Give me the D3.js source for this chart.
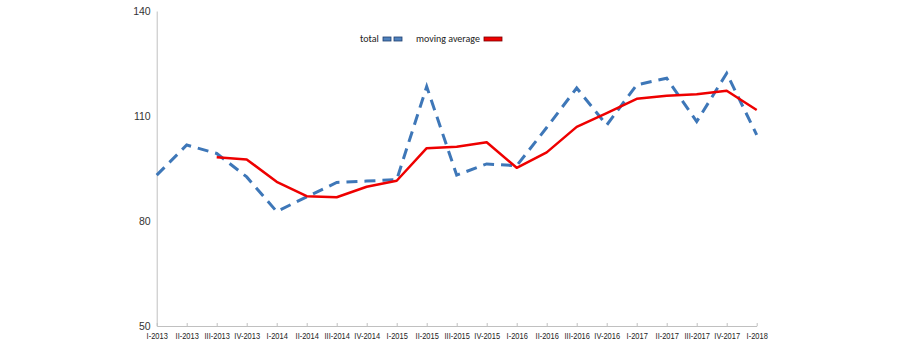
<!DOCTYPE html>
<html><head><meta charset="utf-8">
<script src="https://cdn.jsdelivr.net/npm/d3@7"></script>
<style>body{margin:0;background:#fff}svg{display:block}text{-webkit-font-smoothing:antialiased}</style>
</head><body>
<svg id="c" width="899" height="347"></svg>
<script>
const categories = ["I-2013","II-2013","III-2013","IV-2013","I-2014","II-2014","III-2014","IV-2014","I-2015","II-2015","III-2015","IV-2015","I-2016","II-2016","III-2016","IV-2016","I-2017","II-2017","III-2017","IV-2017","I-2018"];
const totalValues = [93.1,101.7,99.3,92.6,82.7,86.9,91.0,91.4,91.8,118.4,93.1,96.3,95.8,106.7,118.0,107.4,118.9,120.8,108.4,122.2,104.6];
const movingAverage = [null,null,98.2,97.6,91.2,87.1,86.8,89.8,91.5,100.8,101.2,102.5,95.2,99.6,106.9,110.8,114.9,115.8,116.2,117.2,111.7];
const yTicks = [50,80,110,140];
const seriesNames = ["total","moving average"];

const svg = d3.select("#c");
const x = d3.scalePoint().domain(categories).range([156.7, 756.7]);
const y = d3.scaleLinear().domain([50,140]).range([326, 11]);

// y axis
const yAxis = svg.append("g").attr("transform","translate(156.7,0)")
  .call(d3.axisLeft(y).tickValues(yTicks).tickSize(0).tickPadding(6));
yAxis.select(".domain").attr("stroke","#c0c0c0");
yAxis.selectAll("text").attr("font-family","Liberation Sans, Arial, sans-serif").attr("font-size","10.5px").attr("fill","#333");

// x axis
const xAxis = svg.append("g").attr("transform","translate(0,326)").attr("opacity",0.99)
  .call(d3.axisBottom(x).tickSize(-3).tickSizeOuter(0).tickPadding(6));
xAxis.select(".domain").attr("stroke","#c0c0c0");
xAxis.selectAll(".tick line").attr("stroke","#c0c0c0");
xAxis.selectAll("text").attr("font-family","Liberation Sans, Arial, sans-serif").attr("font-size","8.5px")
  .attr("transform","scale(0.88,1)").attr("fill","#222").attr("dy","0.85em");

const blue = "#3e77b8", red = "#ee0000";
const line = d3.line().defined(d => d.v != null).x(d => x(d.c)).y(d => y(d.v));

svg.append("path")
  .datum(categories.map((c,i)=>({c, v: totalValues[i]})))
  .attr("d", line).attr("fill","none").attr("stroke",blue)
  .attr("stroke-width",3).attr("stroke-dasharray","11,7");

svg.append("path")
  .datum(categories.map((c,i)=>({c, v: movingAverage[i]})))
  .attr("d", line).attr("fill","none").attr("stroke",red)
  .attr("stroke-width",2.5).attr("stroke-linejoin","round");

// legend
const lg = svg.append("g").attr("font-family","Carlito, Liberation Sans, Arial, sans-serif").attr("font-size","10px").attr("fill","#222");
lg.append("text").attr("x",360).attr("y",42).text(seriesNames[0]);
[383,394].forEach(px => lg.append("rect").attr("x",px).attr("y",37).attr("width",8).attr("height",4)
  .attr("fill","#4f81bd").attr("stroke","#1f3f6f").attr("stroke-width",0.8));
lg.append("text").attr("x",416).attr("y",42).text(seriesNames[1]);
lg.append("rect").attr("x",484).attr("y",37).attr("width",18).attr("height",4)
  .attr("fill",red).attr("stroke","#7a0000").attr("stroke-width",0.8);
</script>
</body></html>
